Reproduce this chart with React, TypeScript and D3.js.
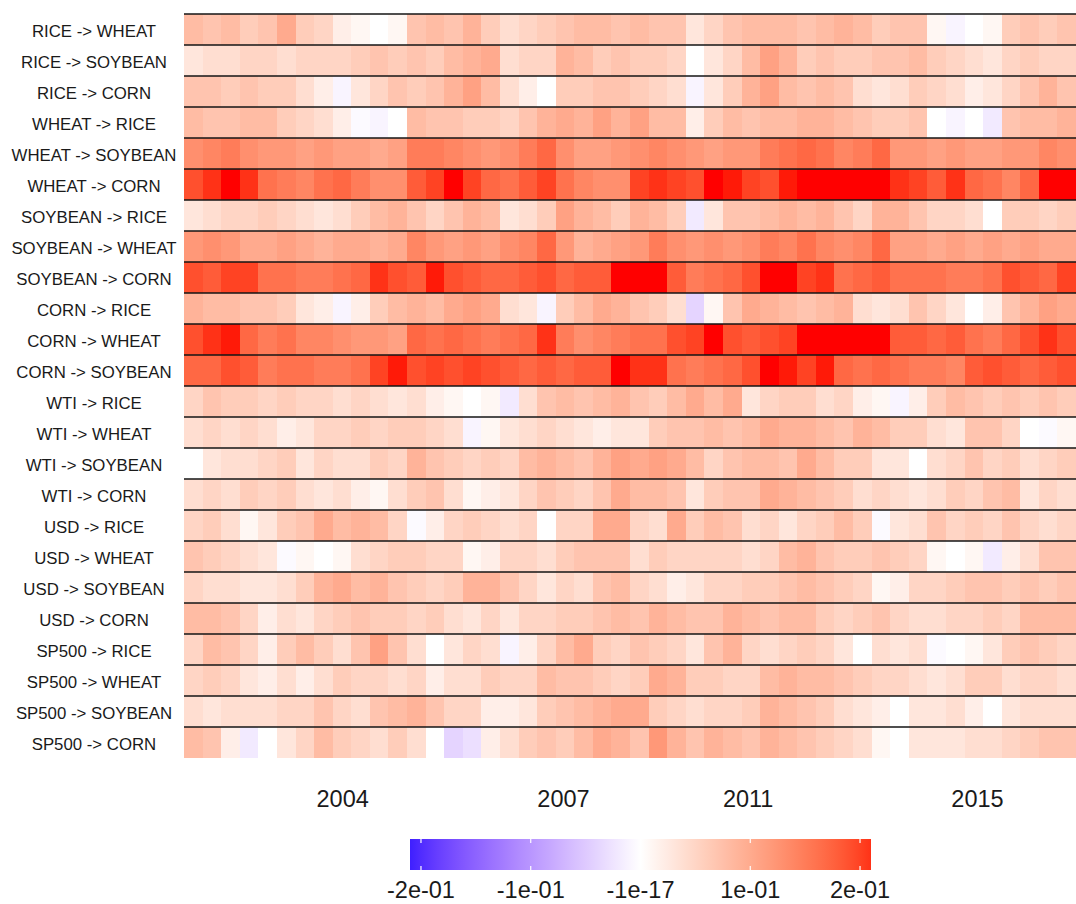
import { useRef, useEffect } from 'react';
import * as d3 from 'd3';

// spillover pairs, top to bottom
const pairLabels = [
  'RICE -> WHEAT', 'RICE -> SOYBEAN', 'RICE -> CORN',
  'WHEAT -> RICE', 'WHEAT -> SOYBEAN', 'WHEAT -> CORN',
  'SOYBEAN -> RICE', 'SOYBEAN -> WHEAT', 'SOYBEAN -> CORN',
  'CORN -> RICE', 'CORN -> WHEAT', 'CORN -> SOYBEAN',
  'WTI -> RICE', 'WTI -> WHEAT', 'WTI -> SOYBEAN', 'WTI -> CORN',
  'USD -> RICE', 'USD -> WHEAT', 'USD -> SOYBEAN', 'USD -> CORN',
  'SP500 -> RICE', 'SP500 -> WHEAT', 'SP500 -> SOYBEAN', 'SP500 -> CORN',
];

// rolling spillover values, 48 periods per pair
const riceWheat = [0.08,0.07,0.08,0.06,0.07,0.1,0.06,0.05,0.02,0.01,0.0,0.01,0.07,0.08,0.07,0.09,0.06,0.04,0.05,0.06,0.07,0.08,0.08,0.07,0.08,0.07,0.07,0.03,0.05,0.07,0.08,0.08,0.08,0.07,0.08,0.09,0.08,0.06,0.07,0.07,0.01,-0.01,0.0,0.01,0.06,0.07,0.06,0.07];
const riceSoybean = [0.03,0.04,0.04,0.05,0.05,0.04,0.05,0.05,0.05,0.06,0.07,0.06,0.07,0.06,0.08,0.09,0.1,0.04,0.05,0.05,0.09,0.08,0.06,0.07,0.06,0.06,0.05,0.0,0.03,0.05,0.08,0.11,0.09,0.06,0.07,0.06,0.06,0.07,0.07,0.08,0.06,0.05,0.04,0.03,0.05,0.06,0.05,0.05];
const riceCorn = [0.07,0.07,0.06,0.07,0.06,0.06,0.04,0.02,-0.01,0.03,0.05,0.07,0.06,0.07,0.09,0.11,0.08,0.04,0.02,0.0,0.06,0.06,0.07,0.07,0.06,0.05,0.04,-0.01,0.03,0.06,0.09,0.11,0.08,0.07,0.08,0.07,0.04,0.03,0.04,0.06,0.05,0.04,0.02,0.03,0.05,0.07,0.09,0.07];
const wheatRice = [0.08,0.07,0.07,0.08,0.08,0.06,0.05,0.04,0.02,-0.005,-0.01,0.0,0.08,0.07,0.07,0.06,0.06,0.05,0.07,0.09,0.1,0.09,0.11,0.09,0.11,0.08,0.08,0.02,0.06,0.08,0.07,0.08,0.08,0.09,0.09,0.08,0.07,0.06,0.06,0.07,0.0,-0.01,0.0,-0.02,0.07,0.08,0.08,0.09];
const wheatSoybean = [0.13,0.14,0.15,0.13,0.12,0.12,0.11,0.12,0.11,0.11,0.1,0.11,0.15,0.15,0.14,0.13,0.12,0.13,0.15,0.17,0.13,0.11,0.11,0.12,0.13,0.14,0.13,0.12,0.11,0.12,0.12,0.15,0.16,0.17,0.16,0.14,0.15,0.17,0.12,0.12,0.11,0.12,0.11,0.11,0.12,0.12,0.14,0.13];
const wheatCorn = [0.19,0.21,0.25,0.21,0.16,0.15,0.14,0.16,0.17,0.15,0.13,0.13,0.18,0.2,0.24,0.2,0.17,0.16,0.18,0.2,0.16,0.14,0.13,0.13,0.2,0.21,0.2,0.19,0.24,0.22,0.2,0.19,0.22,0.26,0.26,0.26,0.25,0.26,0.21,0.2,0.18,0.21,0.17,0.16,0.14,0.17,0.24,0.23];
const soybeanRice = [0.03,0.04,0.05,0.05,0.06,0.05,0.04,0.03,0.04,0.06,0.08,0.09,0.07,0.05,0.07,0.09,0.08,0.03,0.04,0.06,0.11,0.09,0.08,0.06,0.09,0.08,0.06,-0.02,0.03,0.07,0.07,0.08,0.09,0.08,0.09,0.07,0.05,0.09,0.09,0.07,0.05,0.05,0.04,0.0,0.06,0.06,0.05,0.06];
const soybeanWheat = [0.12,0.13,0.12,0.1,0.1,0.11,0.1,0.09,0.1,0.1,0.09,0.1,0.14,0.12,0.11,0.12,0.11,0.13,0.14,0.17,0.12,0.09,0.1,0.11,0.12,0.15,0.13,0.12,0.13,0.12,0.13,0.15,0.14,0.16,0.14,0.13,0.14,0.17,0.11,0.11,0.1,0.11,0.1,0.11,0.1,0.11,0.1,0.1];
const soybeanCorn = [0.19,0.18,0.2,0.2,0.16,0.16,0.15,0.15,0.16,0.17,0.21,0.19,0.18,0.22,0.19,0.18,0.17,0.17,0.18,0.19,0.17,0.18,0.18,0.26,0.25,0.26,0.18,0.15,0.16,0.17,0.19,0.26,0.25,0.2,0.21,0.16,0.17,0.18,0.16,0.16,0.16,0.15,0.15,0.16,0.19,0.18,0.17,0.2];
const cornRice = [0.09,0.08,0.08,0.07,0.07,0.06,0.03,0.02,-0.01,0.02,0.06,0.08,0.09,0.08,0.1,0.11,0.1,0.04,0.03,-0.01,0.06,0.08,0.1,0.09,0.07,0.06,0.04,-0.04,0.01,0.07,0.1,0.09,0.08,0.07,0.08,0.09,0.04,0.03,0.04,0.07,0.05,0.03,0.0,0.02,0.07,0.09,0.11,0.1];
const cornWheat = [0.19,0.21,0.22,0.17,0.15,0.16,0.14,0.14,0.13,0.12,0.12,0.11,0.17,0.16,0.17,0.16,0.15,0.16,0.17,0.21,0.15,0.13,0.14,0.15,0.16,0.16,0.19,0.2,0.23,0.19,0.18,0.19,0.2,0.26,0.24,0.26,0.25,0.24,0.18,0.18,0.17,0.18,0.16,0.15,0.17,0.19,0.21,0.19];
const cornSoybean = [0.17,0.17,0.19,0.18,0.15,0.16,0.16,0.15,0.15,0.16,0.2,0.22,0.19,0.2,0.19,0.2,0.19,0.18,0.17,0.18,0.17,0.18,0.18,0.26,0.21,0.21,0.16,0.15,0.16,0.17,0.19,0.24,0.22,0.2,0.22,0.17,0.16,0.17,0.16,0.15,0.15,0.14,0.18,0.19,0.18,0.17,0.18,0.19];
const wtiRice = [0.05,0.07,0.06,0.06,0.05,0.06,0.05,0.05,0.04,0.05,0.04,0.03,0.04,0.02,0.01,0.0,0.01,-0.02,0.04,0.07,0.08,0.07,0.08,0.09,0.07,0.06,0.08,0.1,0.08,0.1,0.03,0.05,0.06,0.06,0.04,0.05,0.02,0.01,-0.01,0.02,0.06,0.08,0.07,0.06,0.07,0.06,0.07,0.06];
const wtiWheat = [0.04,0.05,0.04,0.05,0.04,0.02,0.03,0.05,0.05,0.06,0.05,0.06,0.06,0.05,0.04,-0.01,0.01,0.03,0.04,0.05,0.04,0.03,0.02,0.03,0.03,0.06,0.07,0.07,0.08,0.07,0.08,0.1,0.09,0.09,0.08,0.07,0.09,0.08,0.06,0.06,0.04,0.03,0.07,0.07,0.05,0.0,-0.005,0.01];
const wtiSoybean = [0.0,0.03,0.04,0.04,0.05,0.06,0.03,0.05,0.04,0.04,0.06,0.05,0.09,0.07,0.06,0.05,0.06,0.05,0.08,0.09,0.08,0.07,0.09,0.11,0.1,0.11,0.1,0.08,0.05,0.07,0.08,0.08,0.07,0.1,0.08,0.06,0.06,0.03,0.03,0.0,0.04,0.05,0.07,0.05,0.06,0.04,0.05,0.06];
const wtiCorn = [0.04,0.05,0.04,0.06,0.05,0.06,0.04,0.03,0.04,0.02,0.01,0.04,0.06,0.07,0.04,0.01,0.02,0.03,0.05,0.07,0.06,0.05,0.07,0.1,0.08,0.08,0.07,0.03,0.06,0.07,0.07,0.1,0.09,0.08,0.07,0.06,0.04,0.05,0.04,0.03,0.04,0.06,0.05,0.07,0.08,0.03,0.05,0.04];
const usdRice = [0.05,0.06,0.04,0.01,0.03,0.06,0.07,0.1,0.08,0.09,0.08,0.05,-0.005,0.02,0.05,0.06,0.05,0.04,0.05,0.0,0.05,0.05,0.1,0.1,0.05,0.04,0.1,0.06,0.08,0.07,0.04,0.05,0.03,0.05,0.06,0.08,0.06,-0.005,0.03,0.04,0.07,0.05,0.06,0.05,0.07,0.05,0.04,0.05];
const usdWheat = [0.07,0.06,0.05,0.04,0.03,-0.005,0.01,0.0,0.01,0.04,0.05,0.06,0.06,0.05,0.05,0.01,0.02,0.05,0.05,0.04,0.06,0.07,0.07,0.07,0.04,0.06,0.05,0.05,0.05,0.05,0.04,0.05,0.08,0.09,0.07,0.06,0.06,0.07,0.06,0.05,0.01,0.0,0.01,-0.02,0.02,0.04,0.07,0.07];
const usdSoybean = [0.05,0.04,0.04,0.03,0.03,0.04,0.06,0.09,0.1,0.08,0.09,0.07,0.06,0.05,0.06,0.09,0.09,0.07,0.05,0.03,0.05,0.04,0.07,0.08,0.05,0.04,0.02,0.03,0.05,0.05,0.06,0.06,0.07,0.08,0.07,0.06,0.05,0.01,0.02,0.05,0.05,0.06,0.07,0.07,0.06,0.07,0.06,0.07];
const usdCorn = [0.08,0.08,0.07,0.05,0.02,0.04,0.03,0.05,0.06,0.07,0.06,0.06,0.05,0.06,0.04,0.03,0.05,0.03,0.05,0.05,0.06,0.06,0.07,0.08,0.07,0.09,0.08,0.07,0.07,0.09,0.08,0.07,0.08,0.08,0.06,0.05,0.06,0.07,0.05,0.04,0.04,0.05,0.05,0.06,0.05,0.08,0.08,0.08];
const sp500Rice = [0.05,0.08,0.07,0.05,0.02,0.06,0.08,0.06,0.04,0.07,0.11,0.07,0.04,0.0,0.03,0.05,0.04,-0.01,0.02,0.05,0.08,0.1,0.06,0.05,0.07,0.06,0.05,0.03,0.07,0.09,0.05,0.04,0.05,0.06,0.05,0.03,0.0,0.04,0.03,0.04,-0.005,0.0,0.01,0.03,0.06,0.07,0.06,0.05];
const sp500Wheat = [0.05,0.06,0.05,0.03,0.02,0.04,0.02,0.04,0.06,0.05,0.05,0.04,0.05,0.02,0.04,0.04,0.06,0.05,0.05,0.08,0.07,0.07,0.06,0.05,0.06,0.1,0.09,0.06,0.06,0.05,0.05,0.08,0.09,0.08,0.08,0.07,0.06,0.05,0.05,0.04,0.03,0.04,0.06,0.06,0.04,0.05,0.05,0.04];
const sp500Soybean = [0.04,0.03,0.04,0.04,0.04,0.05,0.05,0.07,0.05,0.04,0.07,0.08,0.09,0.07,0.05,0.05,0.02,0.02,0.03,0.06,0.07,0.08,0.09,0.1,0.1,0.06,0.05,0.04,0.05,0.05,0.06,0.09,0.08,0.07,0.06,0.04,0.03,0.02,0.0,0.03,0.03,0.04,0.02,0.0,0.03,0.04,0.04,0.04];
const sp500Corn = [0.08,0.07,0.02,-0.02,0.0,0.03,0.05,0.08,0.06,0.05,0.04,0.06,0.04,0.0,-0.04,-0.03,0.02,0.04,0.06,0.07,0.06,0.08,0.1,0.09,0.07,0.12,0.09,0.07,0.09,0.08,0.07,0.09,0.08,0.07,0.06,0.05,0.04,0.01,0.0,0.03,0.03,0.03,0.04,0.04,0.05,0.06,0.07,0.07];

const series = [
  riceWheat, riceSoybean, riceCorn,
  wheatRice, wheatSoybean, wheatCorn,
  soybeanRice, soybeanWheat, soybeanCorn,
  cornRice, cornWheat, cornSoybean,
  wtiRice, wtiWheat, wtiSoybean, wtiCorn,
  usdRice, usdWheat, usdSoybean, usdCorn,
  sp500Rice, sp500Wheat, sp500Soybean, sp500Corn,
];

// x axis labels, placed at period index
const yearLabels = ['2004', '2007', '2011', '2015'];
const yearAt = [8.54, 20.42, 30.36, 42.7];

// legend
const legendTicks = [-0.2, -0.1, 0, 0.1, 0.2];
const legendLabels = ['-2e-01', '-1e-01', '-1e-17', '1e-01', '2e-01'];
const legendLimits = [-0.21, 0.21];
const colorMax = 0.225;

const toRed = d3.interpolateLab('#ffffff', '#ff0000');
const toBlue = d3.interpolateLab('#ffffff', '#0000ff');
function fillFor(v: number) {
  const t = Math.min(Math.abs(v) / colorMax, 1);
  return v >= 0 ? toRed(t) : toBlue(t);
}

export default function App() {
  const svgRef = useRef<SVGSVGElement>(null);

  useEffect(() => {
    if (!svgRef.current) return;
    const svg = d3.select(svgRef.current);
    svg.selectAll('*').remove();

    const width = 1076;
    const margin = { top: 14, right: 0, bottom: 146, left: 184 };
    const height = 904;
    const nCols = series[0].length;

    const x = d3.scaleLinear().domain([0, nCols]).range([margin.left, width - margin.right]);
    const y = d3.scaleBand().domain(pairLabels).range([margin.top, height - margin.bottom]);
    const font = '"Liberation Sans", Arial, sans-serif';

    // Cells
    const rows = svg.append('g').attr('shape-rendering', 'crispEdges');
    series.forEach((vals, r) => {
      rows.append('g')
        .selectAll('rect')
        .data(vals)
        .join('rect')
        .attr('x', (_, i) => x(i))
        .attr('width', (_, i) => x(i + 1) - x(i) + 0.6)
        .attr('y', y(pairLabels[r])!)
        .attr('height', y.bandwidth())
        .attr('fill', (d) => fillFor(d));
    });

    // Row separators
    svg.append('g')
      .selectAll('line')
      .data(pairLabels)
      .join('line')
      .attr('x1', x(0))
      .attr('x2', x(nCols))
      .attr('y1', (d) => y(d)!)
      .attr('y2', (d) => y(d)!)
      .attr('stroke', '#141414')
      .attr('stroke-width', 1.6);

    // Row labels
    svg.append('g')
      .selectAll('text')
      .data(pairLabels)
      .join('text')
      .attr('x', 94)
      .attr('y', (d) => y(d)! + y.bandwidth() / 2 + 7)
      .attr('text-anchor', 'middle')
      .attr('font-family', font)
      .attr('font-size', '16.8px')
      .attr('fill', '#1a1a1a')
      .text((d) => d);

    // Year labels
    svg.append('g')
      .selectAll('text')
      .data(yearLabels)
      .join('text')
      .attr('x', (_, i) => x(yearAt[i]))
      .attr('y', 807)
      .attr('text-anchor', 'middle')
      .attr('font-family', font)
      .attr('font-size', '23.5px')
      .attr('fill', '#1a1a1a')
      .text((d) => d);

    // Colour bar
    const lx = d3.scaleLinear().domain(legendLimits).range([410, 871]);
    const barTop = 839;
    const barH = 31;
    const grad = svg.append('defs').append('linearGradient').attr('id', 'bar-grad');
    d3.range(0, 1.0001, 0.02).forEach((t) => {
      const v = legendLimits[0] + t * (legendLimits[1] - legendLimits[0]);
      grad.append('stop').attr('offset', t * 100 + '%').attr('stop-color', fillFor(v));
    });
    svg.append('rect')
      .attr('x', lx(legendLimits[0]))
      .attr('y', barTop)
      .attr('width', lx(legendLimits[1]) - lx(legendLimits[0]))
      .attr('height', barH)
      .attr('fill', 'url(#bar-grad)');

    const ticks = svg.append('g').selectAll('g').data(legendTicks).join('g');
    ticks.append('line')
      .attr('x1', (d) => lx(d)).attr('x2', (d) => lx(d))
      .attr('y1', barTop).attr('y2', barTop + 4)
      .attr('stroke', '#ffffff').attr('stroke-width', 1.2);
    ticks.append('line')
      .attr('x1', (d) => lx(d)).attr('x2', (d) => lx(d))
      .attr('y1', barTop + barH - 4).attr('y2', barTop + barH)
      .attr('stroke', '#ffffff').attr('stroke-width', 1.2);

    svg.append('g')
      .selectAll('text')
      .data(legendLabels)
      .join('text')
      .attr('x', (_, i) => lx(legendTicks[i]))
      .attr('y', 898)
      .attr('text-anchor', 'middle')
      .attr('font-family', font)
      .attr('font-size', '23.5px')
      .attr('fill', '#1a1a1a')
      .text((d) => d);
  }, []);

  return (
    <svg
      ref={svgRef}
      width={1076}
      height={904}
      viewBox="0 0 1076 904"
      style={{ position: 'absolute', left: 0, top: 0, background: '#ffffff' }}
    />
  );
}
